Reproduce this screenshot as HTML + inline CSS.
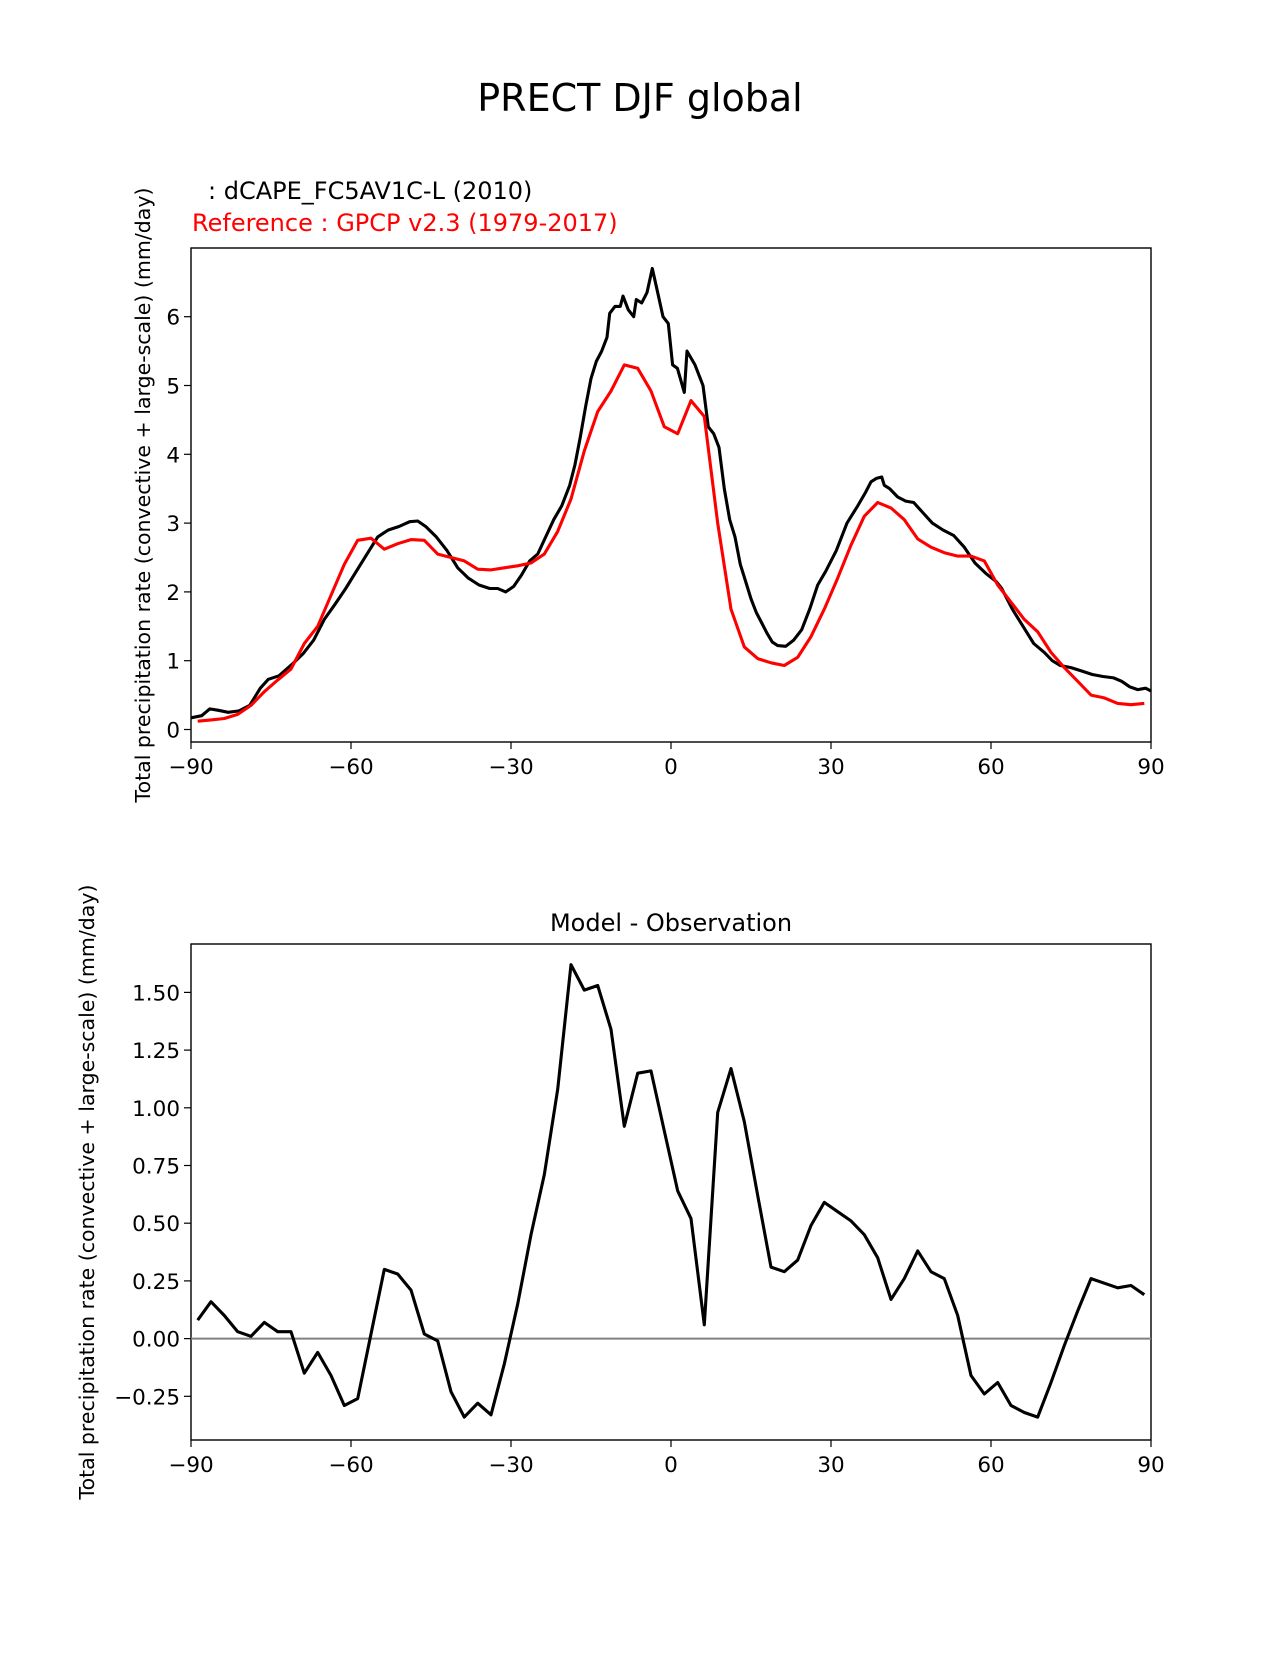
<!DOCTYPE html>
<html><head><meta charset="utf-8"><style>
body{margin:0;background:#fff;}
svg text{font-family:"DejaVu Sans","Liberation Sans",sans-serif;}
</style></head><body>
<svg id="fig" width="1275" height="1650" viewBox="0 0 1275 1650" xmlns="http://www.w3.org/2000/svg">
<rect width="1275" height="1650" fill="#fff"/>
<text x="640" y="111" font-size="38" text-anchor="middle">PRECT DJF global</text>
<text x="208" y="199" font-size="24">: dCAPE_FC5AV1C-L (2010)</text>
<text x="192" y="231" font-size="24" fill="#ff0000">Reference : GPCP v2.3 (1979-2017)</text>
<text x="671" y="931" font-size="24" text-anchor="middle">Model - Observation</text>
<g id="topG"></g>
<g id="botG"></g>
</svg>
<script>
const refVals=[0.12,0.14,0.16,0.22,0.35,0.55,0.72,0.88,1.25,1.5,1.95,2.4,2.75,2.78,2.62,2.7,2.76,2.75,2.55,2.5,2.45,2.33,2.32,2.35,2.38,2.42,2.55,2.88,3.35,4.05,4.62,4.92,5.3,5.25,4.92,4.4,4.3,4.78,4.55,3.0,1.75,1.2,1.03,0.97,0.93,1.05,1.35,1.75,2.2,2.68,3.1,3.3,3.22,3.05,2.77,2.65,2.57,2.52,2.52,2.45,2.1,1.85,1.6,1.42,1.12,0.9,0.7,0.5,0.46,0.38,0.36,0.38];
const diffVals=[0.08,0.16,0.1,0.03,0.01,0.07,0.03,0.03,-0.15,-0.06,-0.16,-0.29,-0.26,0.02,0.3,0.28,0.21,0.02,-0.01,-0.23,-0.34,-0.28,-0.33,-0.11,0.15,0.45,0.71,1.08,1.62,1.51,1.53,1.34,0.92,1.15,1.16,0.9,0.64,0.52,0.06,0.98,1.17,0.94,0.62,0.31,0.29,0.34,0.49,0.59,0.55,0.51,0.45,0.35,0.17,0.26,0.38,0.29,0.26,0.1,-0.16,-0.24,-0.19,-0.29,-0.32,-0.34,-0.19,-0.03,0.12,0.26,0.24,0.22,0.23,0.19];
const modelLat=[-90,-88,-86.5,-85,-83,-81,-79,-77,-75.5,-73.5,-71,-69,-67,-65,-63,-61,-59,-57,-55,-53,-51,-49,-47.5,-46,-44,-42,-40,-38,-36,-34,-32.5,-31,-29.5,-28,-26.5,-25,-23.5,-22,-20.5,-19,-18,-17,-16,-15,-14,-13,-12,-11.5,-10.5,-9.5,-9,-8,-7,-6.5,-5.5,-4.5,-3.5,-2.5,-1.5,-0.5,0.3,1.2,2.5,3,4.5,6,7,8,9,10,11,12,13,14,15,16,17,18,19,20,21.5,23,24.5,26,27.5,29,31,33,35,36.5,37.5,38.5,39.5,40,41,42.5,44,45.5,47,49,51,53,55,57,59,61,62,64,66,68,70,71.5,73,75,77,79,81,83,84.5,86,87.5,89,90];
const modelVals=[0.17,0.2,0.3,0.28,0.25,0.27,0.35,0.6,0.73,0.78,0.95,1.1,1.3,1.6,1.82,2.05,2.3,2.55,2.8,2.9,2.95,3.02,3.03,2.95,2.8,2.6,2.35,2.2,2.1,2.05,2.05,2.0,2.08,2.25,2.45,2.55,2.8,3.05,3.25,3.55,3.85,4.25,4.7,5.1,5.35,5.5,5.7,6.05,6.15,6.15,6.3,6.1,6.0,6.25,6.2,6.35,6.7,6.35,6.0,5.9,5.3,5.25,4.9,5.5,5.3,5.0,4.4,4.3,4.1,3.5,3.05,2.8,2.4,2.15,1.9,1.7,1.55,1.4,1.27,1.22,1.21,1.3,1.45,1.75,2.1,2.3,2.6,3.0,3.25,3.45,3.6,3.65,3.67,3.55,3.5,3.38,3.32,3.3,3.17,3.0,2.9,2.82,2.65,2.42,2.27,2.15,2.05,1.75,1.5,1.25,1.12,1.0,0.93,0.9,0.85,0.8,0.77,0.75,0.7,0.62,0.58,0.6,0.56];
const xTicks=[-90,-60,-30,0,30,60,90];
const xTickLabels=["\u221290","\u221260","\u221230","0","30","60","90"];
const topYTicks=[0,1,2,3,4,5,6];
const botYTicks=[-0.25,0,0.25,0.5,0.75,1,1.25,1.5];
const botYTickLabels=["\u22120.25","0.00","0.25","0.50","0.75","1.00","1.25","1.50"];
const gridLat=refVals.map((_,i)=>-88.75+i*2.5);

const NS="http://www.w3.org/2000/svg";
const XL=191, XR=1151;
function mk(parent,tag,attrs){const e=document.createElementNS(NS,tag);for(const k in attrs)e.setAttribute(k,attrs[k]);parent.appendChild(e);return e;}
function sx(v){return XL+(v+90)/180*(XR-XL);}
function ty(v){return 729.5-v*68.8;}
function by(v){return 1338.6-v*230.8;}

function axes(g,y0,y1,yScale,yt,ytl,ylabelX,prefix){
  const fr=mk(g,'rect',{x:XL,y:y0,width:XR-XL,height:y1-y0,fill:'none',stroke:'#000','stroke-width':1.4});
  
  
  xTicks.forEach((t,i)=>{
    const x=sx(t);
    mk(g,'line',{x1:x,x2:x,y1:y1,y2:y1+7,stroke:'#000','stroke-width':1.2});
    const tx=mk(g,'text',{x:x,y:y1+32,'font-size':21.5,'text-anchor':'middle'});
    tx.textContent=xTickLabels[i];
    
    
  });
  yt.forEach((t,i)=>{
    const y=yScale(t);
    mk(g,'line',{x1:XL-7,x2:XL,y1:y,y2:y,stroke:'#000','stroke-width':1.2});
    const tx=mk(g,'text',{x:XL-11,y:y+8,'font-size':21.5,'text-anchor':'end'});
    tx.textContent=ytl[i];
    
    
  });
  const cy=(y0+y1)/2;
  const yl=mk(g,'text',{x:ylabelX,y:cy,'font-size':20.5,'text-anchor':'middle',transform:`rotate(-90 ${ylabelX} ${cy})`});
  yl.textContent='Total precipitation rate (convective + large-scale) (mm/day)';
  
  
}
function line(g,xs,ys,yScale,color,name){
  const p=mk(g,'polyline',{points:xs.map((x,i)=>sx(x).toFixed(1)+','+yScale(ys[i]).toFixed(1)).join(' '),fill:'none',stroke:color,'stroke-width':3.1,'stroke-linejoin':'round'});
  
  
}
const topG=document.getElementById('topG');
axes(topG,248,742,ty,topYTicks,topYTicks.map(String),150,'top');
line(topG,modelLat,modelVals,ty,'#000','model-line');
line(topG,gridLat,refVals,ty,'#ff0000','reference-line');
const botG=document.getElementById('botG');
axes(botG,944,1440,by,botYTicks,botYTickLabels,94,'diff');
const z=mk(botG,'line',{x1:XL,x2:XR,y1:by(0),y2:by(0),stroke:'#808080','stroke-width':2});


line(botG,gridLat,diffVals,by,'#000','difference-line');
</script>
</body></html>
